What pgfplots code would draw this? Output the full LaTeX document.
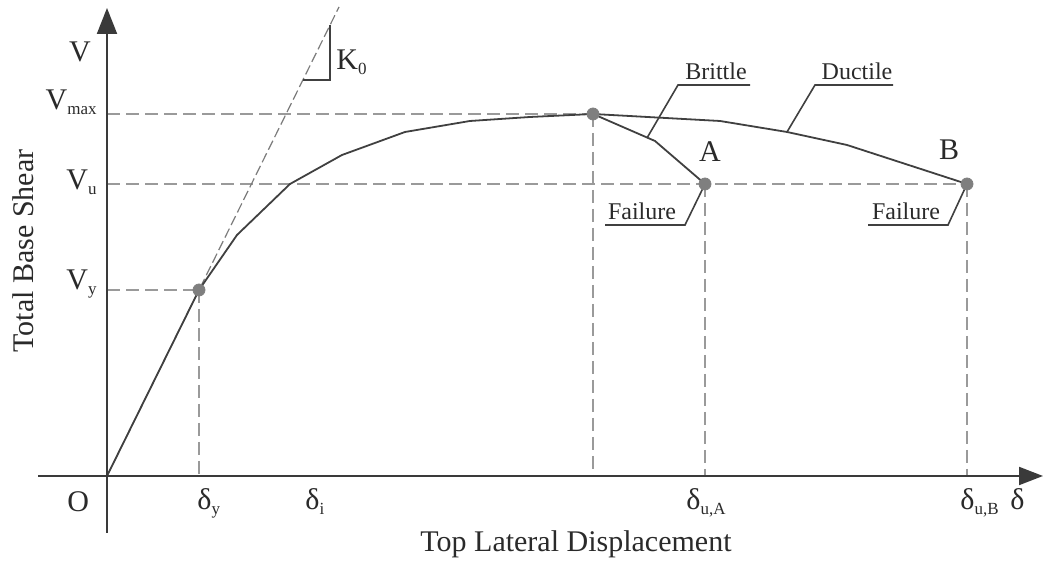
\documentclass[border=0pt]{standalone}
\usepackage{fontspec}
\setmainfont{Liberation Serif}
\usepackage{pgfplots}
\pgfplotsset{compat=1.18}
\usetikzlibrary{arrows.meta}
\definecolor{axcol}{HTML}{3A3A3A}
\definecolor{curvecol}{HTML}{404040}
\definecolor{dashcol}{HTML}{9A9A9A}
\definecolor{dotcol}{HTML}{7F7F7F}
\definecolor{txtcol}{HTML}{2A2A2A}
\newcommand{\sub}[1]{\raisebox{-0.35ex}{\fontsize{8.5}{10}\selectfont #1}}
\begin{document}
\begin{tikzpicture}
\begin{axis}[
  width=522pt, height=282.5pt, scale only axis,
  xmin=-107, xmax=937, ymin=-89, ymax=476,
  hide axis, clip=false,
]
\path (axis cs:-107,-89) rectangle (axis cs:937,476);
% dashed reference lines
\addplot[dashcol, line width=0.9pt, dash pattern=on 6.5pt off 3pt] coordinates {(0,362) (486,362)};
\addplot[dashcol, line width=0.9pt, dash pattern=on 6.5pt off 3pt] coordinates {(0,292) (860,292)};
\addplot[dashcol, line width=0.9pt, dash pattern=on 6.5pt off 3pt] coordinates {(0,186) (92,186)};
\addplot[dashcol, line width=0.7pt, dash pattern=on 6.5pt off 3pt] coordinates {(92,186) (92,0)};
\addplot[dashcol, line width=0.7pt, dash pattern=on 6.5pt off 3pt] coordinates {(486,362) (486,0)};
\addplot[dashcol, line width=0.7pt, dash pattern=on 6.5pt off 3pt] coordinates {(598,292) (598,0)};
\addplot[dashcol, line width=0.7pt, dash pattern=on 6.5pt off 3pt] coordinates {(860,292) (860,0)};
% initial stiffness
\addplot[dashcol!80!black, line width=0.6pt, dash pattern=on 5pt off 2pt] coordinates {(0,0) (232,469)};
\addplot[curvecol, line width=0.8pt] coordinates {(196,396) (223,396) (223,451)};
% capacity curve
\addplot[curvecol, line width=0.9pt] coordinates {(0,0) (92,186) (130,241) (183,292) (235,321) (298,344) (363,355) (423,359) (486,362) (613,355) (680,344) (740,331) (860,292)};
\addplot[curvecol, line width=0.9pt] coordinates {(486,362) (548,335) (598,292)};
% leaders
\addplot[curvecol, line width=0.8pt] coordinates {(540,338) (571,391) (643,391)};
\addplot[curvecol, line width=0.8pt] coordinates {(680,344) (708,391) (786,391)};
\addplot[curvecol, line width=0.8pt] coordinates {(598,292) (578,251) (498,251)};
\addplot[curvecol, line width=0.8pt] coordinates {(860,292) (841,251) (761,251)};
% points
\addplot[only marks, mark=*, mark size=3pt, dotcol, mark options={draw=dotcol, fill=dotcol}] coordinates {(92,186) (486,362) (598,292) (860,292)};
% axes
\draw[axcol, line width=1pt, -{Triangle[length=13pt,width=10pt]}] (axis cs:0,-57) -- (axis cs:0,468);
\draw[axcol, line width=1pt, -{Triangle[length=12pt,width=9pt]}] (axis cs:-69,0) -- (axis cs:936,0);
% texts
\begin{scope}[every node/.style={text=txtcol, inner sep=0pt, font=\fontsize{15}{18}\selectfont}]
\node[anchor=base] at (axis cs:-27,414) {V};
\node[anchor=base east] at (axis cs:-10,366) {V\sub{max}};
\node[anchor=base east] at (axis cs:-10,286) {V\sub{u}};
\node[anchor=base east] at (axis cs:-10,186) {V\sub{y}};
\node[anchor=base west] at (axis cs:229,406) {K\sub{0}};
\node[anchor=base west] at (axis cs:-40,-36) {O};
\node[anchor=base west] at (axis cs:90,-34) {δ\sub{y}};
\node[anchor=base west] at (axis cs:198,-34) {δ\sub{i}};
\node[anchor=base west] at (axis cs:579,-34) {δ\sub{u,A}};
\node[anchor=base west] at (axis cs:853,-34) {δ\sub{u,B}};
\node[anchor=base west] at (axis cs:903,-34) {δ};
\node[anchor=base] at (axis cs:469,-76) {Top Lateral Displacement};
\node[anchor=base, rotate=90] at (axis cs:-74,225) {Total Base Shear};
\node[anchor=base] at (axis cs:603,314) {A};
\node[anchor=base] at (axis cs:842,316) {B};
\node[anchor=base, font=\fontsize{12}{14}\selectfont] at (axis cs:609,396) {Brittle};
\node[anchor=base, font=\fontsize{12}{14}\selectfont] at (axis cs:750,396) {Ductile};
\node[anchor=base, font=\fontsize{12}{14}\selectfont] at (axis cs:535,256) {Failure};
\node[anchor=base, font=\fontsize{12}{14}\selectfont] at (axis cs:799,256) {Failure};
\end{scope}
\end{axis}
\end{tikzpicture}
\end{document}
